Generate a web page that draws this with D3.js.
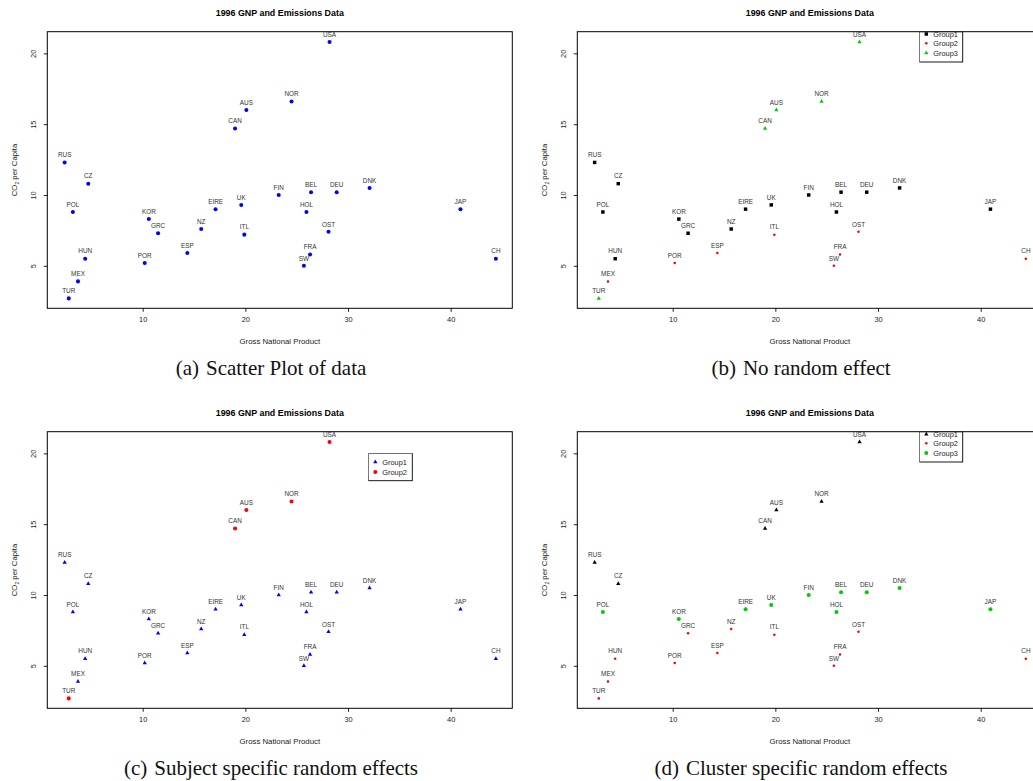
<!DOCTYPE html>
<html>
<head>
<meta charset="utf-8">
<script src="https://cdn.jsdelivr.net/npm/d3@7"></script>
<style>
  body { margin: 0; background: #fff; }
  svg { display: block; }
  .tick text { font-family: "Liberation Sans", Arial, sans-serif; font-size: 7.4px; fill: #222; }
  .tick line { stroke: #222; }
</style>
</head>
<body>
<div id="chart"></div>
<script>
// countries with GNP and CO2 per capita (1996)
const countries = ["USA","NOR","AUS","CAN","RUS","CZ","POL","KOR","GRC","HUN","MEX","TUR","POR","ESP",
                   "NZ","EIRE","UK","ITL","FIN","BEL","DEU","HOL","OST","FRA","SW","DNK","JAP","CH"];
const gnp = [28.2,24.5,20.1,19.0,2.4,4.7,3.2,10.6,11.5,4.4,3.7,2.8,10.2,14.35,
             15.7,17.1,19.6,19.9,23.25,26.4,28.9,25.95,28.1,26.3,25.7,32.1,40.95,44.4];
const co2 = [20.8,16.6,16.0,14.7,12.3,10.8,8.8,8.3,7.3,5.5,3.9,2.7,5.2,5.9,
             7.6,9.0,9.3,7.2,10.0,10.2,10.2,8.8,7.4,5.8,5.0,10.5,9.0,5.5];

// group memberships for panels b, c, d
const groupsB = [3,3,3,3,1,1,1,1,1,1,2,3,2,2,1,1,1,2,1,1,1,1,2,2,2,1,1,2];
const groupsC = [2,2,2,2,1,1,1,1,1,1,1,2,1,1,1,1,1,1,1,1,1,1,1,1,1,1,1,1];
const groupsD = [1,1,1,1,1,1,3,3,2,2,2,2,2,2,2,3,3,2,3,3,3,3,2,2,2,3,3,2];

const xTicks = [10, 20, 30, 40];
const yTicks = [5, 10, 15, 20];

const titleText = "1996 GNP and Emissions Data";
const captions = ["Scatter Plot of data", "No random effect",
                  "Subject specific random effects", "Cluster specific random effects"];

const svgWidth = 1033, svgHeight = 781;
const plotW = 465, plotH = 276.6;

const svg = d3.select("#chart").append("svg")
    .attr("width", svgWidth)
    .attr("height", svgHeight);

const x = d3.scaleLinear().domain([0.71, 46.0]).range([0, plotW]);
const y = d3.scaleLinear().domain([2.0, 21.53]).range([plotH, 0]);

const sym = {
  dot:    d3.symbol().type(d3.symbolCircle).size(13)(),
  small:  d3.symbol().type(d3.symbolCircle).size(5)(),
  square: d3.symbol().type(d3.symbolSquare).size(12)(),
  tri:    d3.symbol().type(d3.symbolTriangle).size(8)()
};

const panels = [
  { ox: 47.3, oy: 31.7, cap: "(a)", groups: null,
    style: { 1: {shape: "dot", color: "#0000ff"} } },
  { ox: 577.3, oy: 31.7, cap: "(b)", groups: groupsB,
    style: { 1: {shape: "square", color: "#000"}, 2: {shape: "small", color: "#ff0000"}, 3: {shape: "tri", color: "#00cd00"} },
    legend: { x: 342, y: 0, w: 43.4, h: 30.3, rows: [2.3, 11.6, 21.3] } },
  { ox: 47.3, oy: 431.7, cap: "(c)", groups: groupsC,
    style: { 1: {shape: "tri", color: "#0000ff"}, 2: {shape: "dot", color: "#ff0000"} },
    legend: { x: 321, y: 21.6, w: 44, h: 27.4, rows: [8.7, 18.7] } },
  { ox: 577.3, oy: 431.7, cap: "(d)", groups: groupsD,
    style: { 1: {shape: "tri", color: "#000"}, 2: {shape: "small", color: "#ff0000"}, 3: {shape: "dot", color: "#00cd00"} },
    legend: { x: 342, y: 0, w: 43.4, h: 30.3, rows: [2.6, 11.6, 21.3] } }
];

panels.forEach(function(p, pi) {
  const g = svg.append("g").attr("transform", "translate(" + p.ox + "," + p.oy + ")");

  // title
  g.append("text")
    .attr("x", plotW / 2).attr("y", -15.8)
    .attr("text-anchor", "middle")
    .style("font-family", "Liberation Sans, Arial, sans-serif")
    .style("font-weight", "bold")
    .style("font-size", "8.9px")
    .text(titleText);

  // axes
  g.append("g")
    .attr("transform", "translate(0," + plotH + ")")
    .call(d3.axisBottom(x).tickValues(xTicks).tickSize(3.5).tickPadding(5))
    .call(a => a.select(".domain").remove());

  g.append("g")
    .call(d3.axisLeft(y).tickValues(yTicks).tickSize(3.5).tickPadding(0))
    .call(a => a.select(".domain").remove())
    .selectAll("text")
    .attr("transform", "rotate(-90)")
    .attr("x", 0).attr("y", -11.5)
    .attr("dy", 0)
    .attr("text-anchor", "middle");

  // axis labels
  g.append("text")
    .attr("x", plotW / 2).attr("y", plotH + 35.8)
    .attr("text-anchor", "middle")
    .style("font-family", "Liberation Sans, Arial, sans-serif")
    .style("font-size", "7.8px")
    .attr("fill", "#222")
    .text("Gross National Product");

  const yl = g.append("text")
    .attr("transform", "translate(-30.8," + (plotH / 2) + ") rotate(-90)")
    .attr("text-anchor", "middle")
    .style("font-family", "Liberation Sans, Arial, sans-serif")
    .style("font-size", "7.8px")
    .attr("fill", "#222");
  yl.append("tspan").text("CO");
  yl.append("tspan").attr("dy", 2).style("font-size", "5px").text("2");
  yl.append("tspan").attr("dy", -2).text(" per Capita");

  // points and labels
  const pts = g.selectAll(".pt")
    .data(countries.map((c, i) => ({ name: c, gnp: gnp[i], co2: co2[i], grp: p.groups ? p.groups[i] : 1 })))
    .enter().append("g")
    .attr("class", "pt")
    .attr("transform", d => "translate(" + x(d.gnp) + "," + y(d.co2) + ")");

  pts.append("path")
    .attr("d", d => sym[p.style[d.grp].shape])
    .attr("fill", d => p.style[d.grp].color);

  pts.append("text")
    .attr("y", -5.3)
    .attr("text-anchor", "middle")
    .style("font-family", "Liberation Sans, Arial, sans-serif")
    .style("font-size", "6.4px")
    .attr("fill", "#333")
    .text(d => d.name);

  // legend, clipped to plot region
  if (p.legend) {
    const clipId = "clip" + pi;
    g.append("clipPath").attr("id", clipId)
      .append("rect").attr("width", plotW).attr("height", plotH);
    const lg = g.append("g").attr("clip-path", "url(#" + clipId + ")")
      .attr("transform", "translate(" + p.legend.x + "," + p.legend.y + ")");
    lg.append("rect")
      .attr("width", p.legend.w).attr("height", p.legend.h)
      .attr("fill", "#fff").attr("stroke", "#000").attr("stroke-width", 0.9);
    Object.keys(p.style).forEach(function(k, j) {
      const row = lg.append("g").attr("transform", "translate(0," + p.legend.rows[j] + ")");
      row.append("path")
        .attr("transform", "translate(7,0)")
        .attr("d", sym[p.style[k].shape])
        .attr("fill", p.style[k].color);
      row.append("text")
        .attr("x", 14).attr("y", 2.5)
        .style("font-family", "Liberation Sans, Arial, sans-serif")
        .style("font-size", "7.4px")
        .attr("fill", "#222")
        .text("Group" + k);
    });
  }

  // box
  g.append("rect")
    .attr("width", plotW).attr("height", plotH)
    .attr("fill", "none").attr("stroke", "#000").attr("stroke-width", 1);

  // caption
  const cap = svg.append("text")
    .attr("x", p.ox - 47.3 + 271).attr("y", p.oy + 343)
    .attr("text-anchor", "middle")
    .style("font-family", "Liberation Serif, Times New Roman, serif")
    .style("font-size", "21px")
    .attr("fill", "#111");
  cap.append("tspan").text(p.cap);
  cap.append("tspan").attr("dx", 7).text(captions[pi]);
});
</script>
</body>
</html>
